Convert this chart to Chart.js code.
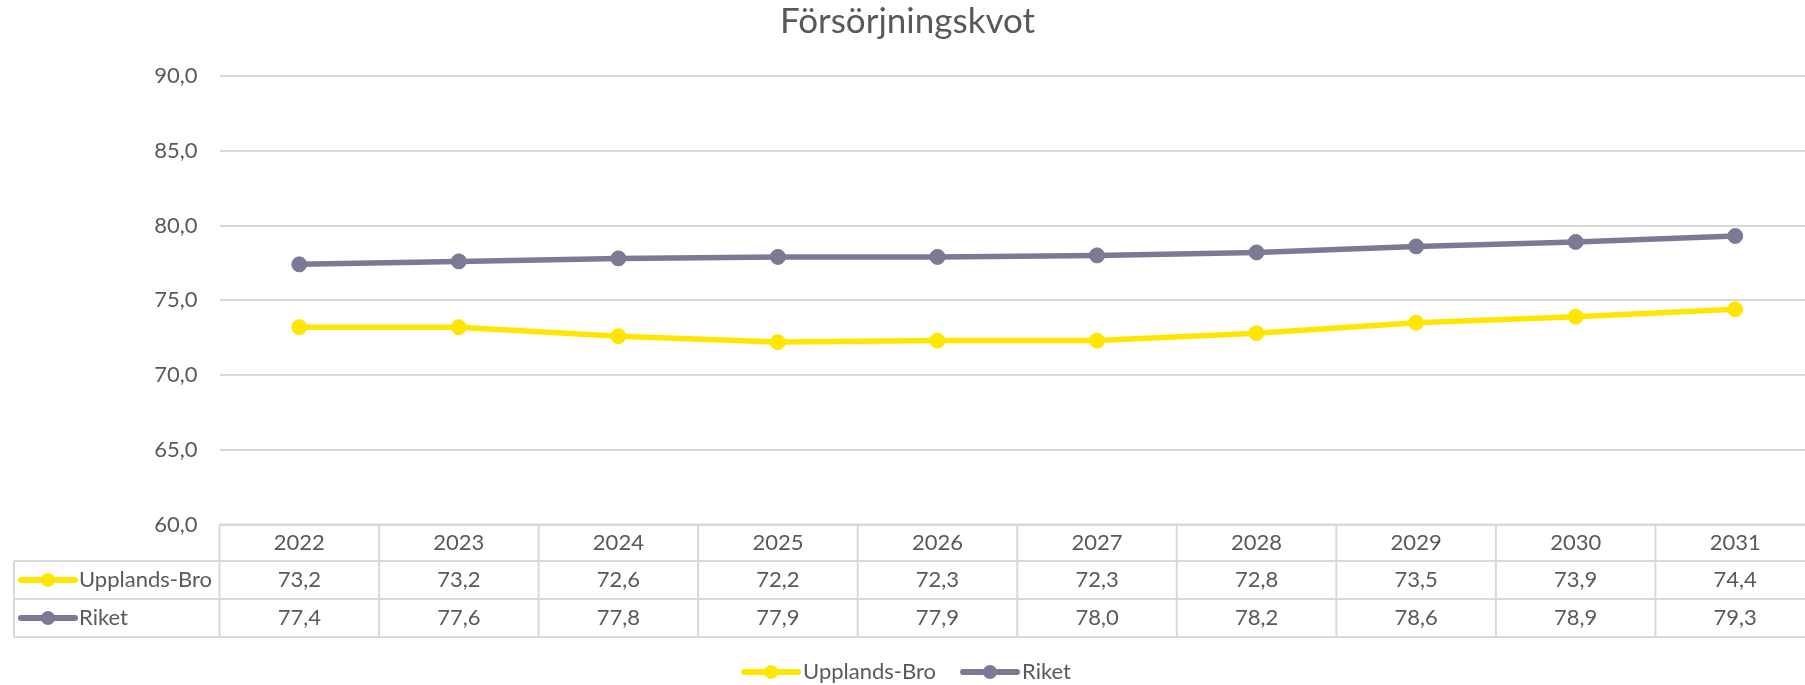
<!DOCTYPE html>
<html>
<head>
<meta charset="utf-8">
<title>Försörjningskvot</title>
<script src="https://cdn.jsdelivr.net/npm/chart.js@4.4.1/dist/chart.umd.min.js"></script>
<style>
  html, body { margin: 0; padding: 0; background: #fff; overflow: hidden; }
  #wrap { width: 1830px; height: 685px; position: relative; }
</style>
</head>
<body>
<div id="wrap"><canvas id="chart"></canvas></div>
<script>
const chartTitle = 'Försörjningskvot';
const years = ['2022', '2023', '2024', '2025', '2026', '2027', '2028', '2029', '2030', '2031'];
const upplandsBro = [73.2, 73.2, 72.6, 72.2, 72.3, 72.3, 72.8, 73.5, 73.9, 74.4];
const riket = [77.4, 77.6, 77.8, 77.9, 77.9, 78.0, 78.2, 78.6, 78.9, 79.3];
const seriesNames = ['Upplands-Bro', 'Riket'];
const seriesColors = ['#FFE600', '#7A7A94'];

const textColor = '#595959';
const gridColor = '#D9D9D9';
const fontFamily = 'Lato, "Open Sans", sans-serif';

Chart.defaults.font.family = fontFamily;
Chart.defaults.color = textColor;

function fmt(v) {
  return v.toFixed(1).replace('.', ',');
}

// line + dot like the Excel legend keys
function drawKey(ctx, x, y, color) {
  ctx.save();
  ctx.strokeStyle = color;
  ctx.fillStyle = color;
  ctx.lineWidth = 6;
  ctx.lineCap = 'round';
  ctx.beginPath();
  ctx.moveTo(x, y);
  ctx.lineTo(x + 54, y);
  ctx.stroke();
  ctx.beginPath();
  ctx.arc(x + 27, y, 7, 0, Math.PI * 2);
  ctx.fill();
  ctx.restore();
}

const tableAndLegend = {
  id: 'tableAndLegend',
  afterDraw(chart) {
    const ctx = chart.ctx;
    const area = chart.chartArea;
    const xScale = chart.scales.x;
    const colW = xScale.width / years.length;
    const top = area.bottom;
    const rows = [top, top + 36.5, top + 74.5, top + 112.5];
    const tableLeft = 14;
    const series = [upplandsBro, riket];
    const mid = area.right / 2;

    ctx.save();
    // title
    ctx.fillStyle = textColor;
    ctx.font = '35px ' + fontFamily;
    ctx.textAlign = 'center';
    ctx.textBaseline = 'middle';
    ctx.fillText(chartTitle, mid, 22);

    // table lines
    ctx.strokeStyle = gridColor;
    ctx.lineWidth = 2;
    ctx.beginPath();
    ctx.moveTo(area.left, rows[0]);
    ctx.lineTo(area.right, rows[0]);
    for (let r = 1; r < rows.length; r++) {
      ctx.moveTo(tableLeft, rows[r]);
      ctx.lineTo(area.right, rows[r]);
    }
    ctx.moveTo(tableLeft, rows[1]);
    ctx.lineTo(tableLeft, rows[3]);
    for (let i = 0; i <= years.length; i++) {
      const x = area.left + i * colW;
      ctx.moveTo(x, rows[0]);
      ctx.lineTo(x, rows[3]);
    }
    ctx.stroke();

    // table text
    ctx.font = '22px ' + fontFamily;
    ctx.fillStyle = textColor;
    ctx.textAlign = 'center';
    years.forEach((y, i) => {
      const cx = xScale.getPixelForValue(i);
      ctx.fillText(y, cx, (rows[0] + rows[1]) / 2);
      series.forEach((s, k) => {
        ctx.fillText(fmt(s[i]), cx, (rows[k + 1] + rows[k + 2]) / 2);
      });
    });
    ctx.textAlign = 'left';
    seriesNames.forEach((name, k) => {
      const cy = (rows[k + 1] + rows[k + 2]) / 2;
      drawKey(ctx, 21, cy, seriesColors[k]);
      ctx.fillStyle = textColor;
      ctx.fillText(name, 79, cy);
    });

    // legend
    const gap = 27;
    const widths = seriesNames.map(n => 59 + ctx.measureText(n).width);
    const total = widths.reduce((a, b) => a + b, 0) + gap * (seriesNames.length - 1);
    let lx = mid - total / 2;
    const ly = 672;
    seriesNames.forEach((name, k) => {
      drawKey(ctx, lx, ly, seriesColors[k]);
      ctx.fillStyle = textColor;
      ctx.fillText(name, lx + 59, ly);
      lx += widths[k] + gap;
    });
    ctx.restore();
  }
};

new Chart(document.getElementById('chart'), {
  type: 'line',
  data: {
    labels: years,
    datasets: [upplandsBro, riket].map((values, k) => ({
      label: seriesNames[k],
      data: values,
      borderColor: seriesColors[k],
      backgroundColor: seriesColors[k],
      pointBackgroundColor: seriesColors[k],
      pointBorderColor: seriesColors[k],
      borderWidth: 5.5,
      pointRadius: 7.5,
      pointBorderWidth: 1,
      borderJoinStyle: 'round',
      borderCapStyle: 'round',
      tension: 0
    }))
  },
  options: {
    responsive: true,
    maintainAspectRatio: false,
    animation: false,
    layout: { padding: { top: 76, right: 15, bottom: 160.5, left: 0 } },
    plugins: {
      legend: { display: false },
      title: { display: false },
      tooltip: { enabled: false }
    },
    scales: {
      x: {
        type: 'category',
        offset: true,
        display: false
      },
      y: {
        min: 60,
        max: 90,
        afterFit: scale => { scale.width = 219.5; },
        border: { display: false },
        grid: { color: gridColor, lineWidth: 2, drawTicks: false },
        ticks: {
          stepSize: 5,
          padding: 22,
          color: textColor,
          font: { size: 22 },
          callback: v => fmt(v)
        }
      }
    }
  },
  plugins: [tableAndLegend]
});
</script>
</body>
</html>
